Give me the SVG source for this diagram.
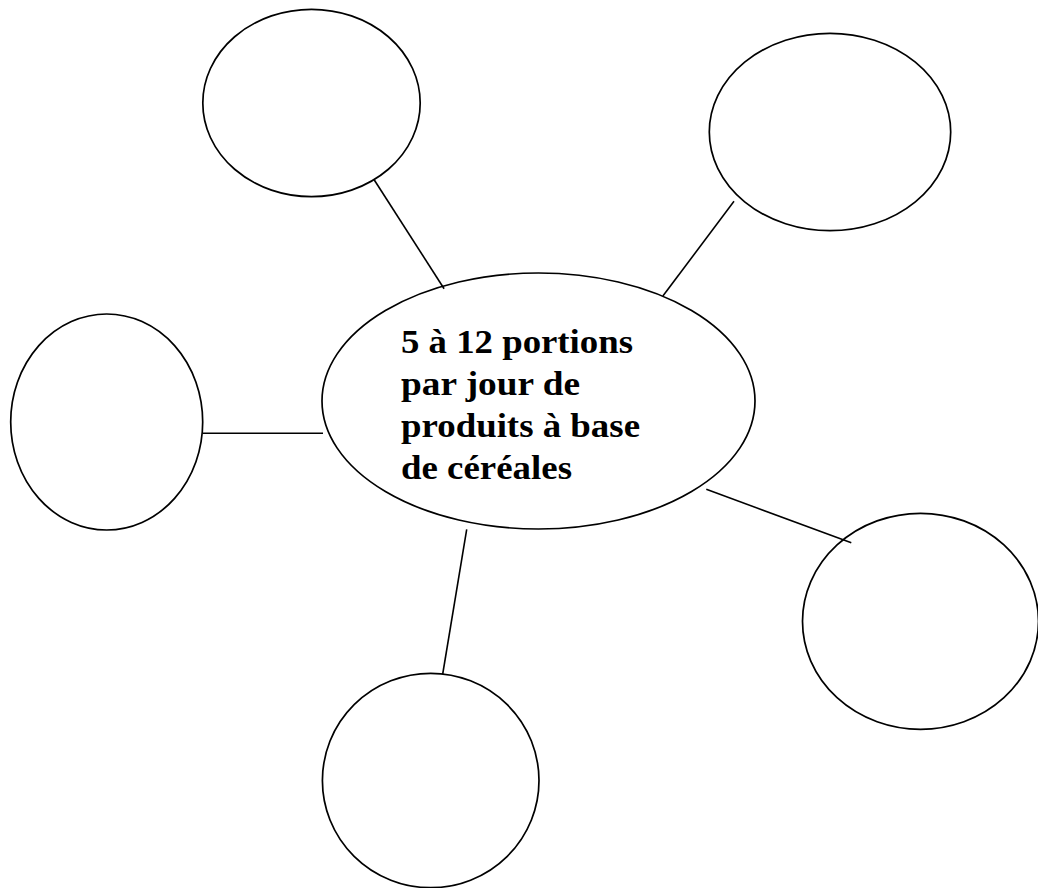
<svg xmlns="http://www.w3.org/2000/svg" width="1038" height="888" viewBox="0 0 1038 888">
<style>
.node{fill:none;stroke:#000;stroke-width:1.7}
.conn{stroke:#000;stroke-width:1.6;fill:none}
.lbl{font-family:'Liberation Serif','Times New Roman',Times,serif;font-weight:700;font-size:33px;fill:#000}
</style>
<rect width="1038" height="888" fill="#fff"/>
<g id="connectors">
<line class="conn" x1="374.3" y1="180" x2="444.1" y2="288.7"/>
<line class="conn" x1="734" y1="201.3" x2="662.9" y2="296"/>
<line class="conn" x1="202.7" y1="433.3" x2="323" y2="433.3"/>
<line class="conn" x1="706.3" y1="489.3" x2="851.3" y2="542.7"/>
<line class="conn" x1="466.7" y1="529.3" x2="442.7" y2="674"/>
</g>
<g id="node-center">
<ellipse class="node" cx="538.5" cy="401" rx="216.5" ry="128"/>
<text class="lbl" x="401" y="353" textLength="232" lengthAdjust="spacingAndGlyphs">5 à 12 portions</text>
<text class="lbl" x="401" y="395" textLength="179" lengthAdjust="spacingAndGlyphs">par jour de</text>
<text class="lbl" x="401" y="437" textLength="239" lengthAdjust="spacingAndGlyphs">produits à base</text>
<text class="lbl" x="401" y="479" textLength="171" lengthAdjust="spacingAndGlyphs">de céréales</text>
</g>
<g id="node-top-left"><ellipse class="node" cx="311.5" cy="103" rx="108.7" ry="93.7"/></g>
<g id="node-top-right"><ellipse class="node" cx="830" cy="132" rx="120.7" ry="98.7"/></g>
<g id="node-left"><ellipse class="node" cx="106.7" cy="422" rx="96" ry="108"/></g>
<g id="node-bottom-right"><ellipse class="node" cx="920.5" cy="621.3" rx="118" ry="108"/></g>
<g id="node-bottom"><ellipse class="node" cx="430.7" cy="780.5" rx="108.3" ry="107.2"/></g>
</svg>
